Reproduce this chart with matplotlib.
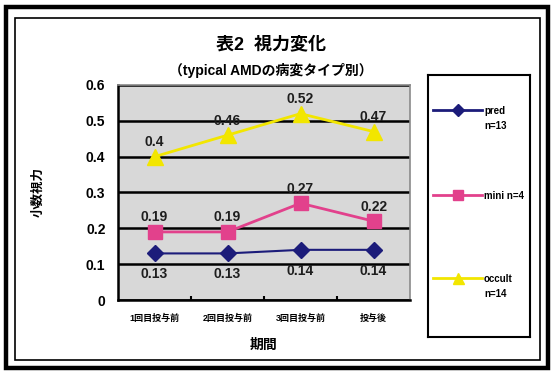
import matplotlib
matplotlib.use('Agg')
from matplotlib import pyplot as plt
from matplotlib.patches import Rectangle
import numpy as np

# DATA
CATS = ['1回目投与前', '2回目投与前', '3回目投与前', '投与後']
PRED = [0.13, 0.13, 0.14, 0.14]
MINI = [0.19, 0.19, 0.27, 0.22]
OCCULT = [0.4, 0.46, 0.52, 0.47]
NAMES = ['pred\nn=13', 'mini n=4', 'occult\nn=14']
YTICKS = [0, 0.1, 0.2, 0.3, 0.4, 0.5, 0.6]

# STYLE
W, H = 554, 372
FAM = ['Liberation Sans', 'Noto Sans CJK JP', 'DejaVu Sans']
plt.rcParams['font.family'] = FAM
plt.rcParams['font.weight'] = 'bold'
COLS = ['#1c1c7a', '#e2418c', '#f2e600']
MARK = ['D', 's', '^']
MS = [8, 9.5, 11]
LW = [1.5, 2, 2]
OFF = [-15, 10.5, 10.5]   # label below / above, points

fig = plt.figure(figsize=(W/100, H/100), dpi=100)
px = lambda x, y: (x/W, 1-y/H)

# frames
fig.patches.append(Rectangle(px(6, 368), 542/W, 361/H, transform=fig.transFigure,
                             fill=False, ec='black', lw=3.2))
fig.patches.append(Rectangle(px(15, 360), 525/W, 342/H, transform=fig.transFigure,
                             fill=False, ec='black', lw=1.2))

# titles
fig.text(*px(271, 45), '表2  視力変化', ha='center', va='center', fontsize=13, fontweight='bold')
fig.text(*px(271, 70), '（typical AMDの病変タイプ別）', ha='center', va='center',
         fontsize=10, fontweight='bold')

# main axes
ax = fig.add_axes([118/W, 1-300/H, 292/W, 215/H])
ax.set_facecolor('#d8d8d8')
x = np.arange(len(CATS))
for ys, c, m, ms, lw, o in zip((PRED, MINI, OCCULT), COLS, MARK, MS, LW, OFF):
    ax.plot(x, ys, color=c, marker=m, markersize=ms, lw=lw, zorder=5, clip_on=False)
    for xi, yi in zip(x, ys):
        ax.annotate(f'{yi:g}', (xi, yi), xytext=(0, o), textcoords='offset points',
                    ha='center', va='center', fontsize=10, fontweight='bold', color='#1e1e1e', zorder=6)
ax.set_xlim(-0.5, len(CATS)-0.5)
ax.set_ylim(0, 0.6)
ax.set_yticks(YTICKS, [f'{t:g}' for t in YTICKS], fontsize=10, fontweight='bold')
ax.set_xticks(x, CATS, fontsize=6.5, fontweight='bold')
ax.set_xticks(x[:-1]+0.5, minor=True)
ax.tick_params(axis='x', which='major', length=0, pad=10)
ax.tick_params(axis='x', which='minor', length=3, width=1.5, direction='in')
ax.tick_params(axis='y', length=0, pad=9)
ax.grid(axis='y', color='black', lw=1.8, zorder=1)
ax.set_axisbelow(True)
for s in ('left', 'bottom'):
    ax.spines[s].set_linewidth(1.8)
for s in ('top', 'right'):
    ax.spines[s].set_color('#8a8a8a')
    ax.spines[s].set_linewidth(1.2)
ax.set_xlabel('期間', fontsize=10, fontweight='bold', labelpad=11)
ax.set_ylabel('小数視力', fontsize=9, fontweight='bold', labelpad=30)

# legend box
lax = fig.add_axes([428/W, 1-337/H, 102/W, 262/H])
lax.set_xlim(0, 102)
lax.set_ylim(262, 0)
lax.set_xticks([])
lax.set_yticks([])
for s in lax.spines.values():
    s.set_linewidth(1.5)
for yy, c, m, ms, n in zip((35, 120, 203), COLS, MARK, MS, NAMES):
    lax.plot([5, 54], [yy, yy], color=c, lw=2)
    lax.plot([30], [yy], color=c, marker=m, markersize=ms*0.72)
    lax.text(56, yy-4, n, ha='left', va='top', fontsize=7, fontweight='bold', linespacing=1.6)

fig.savefig('out.png', dpi=100)
